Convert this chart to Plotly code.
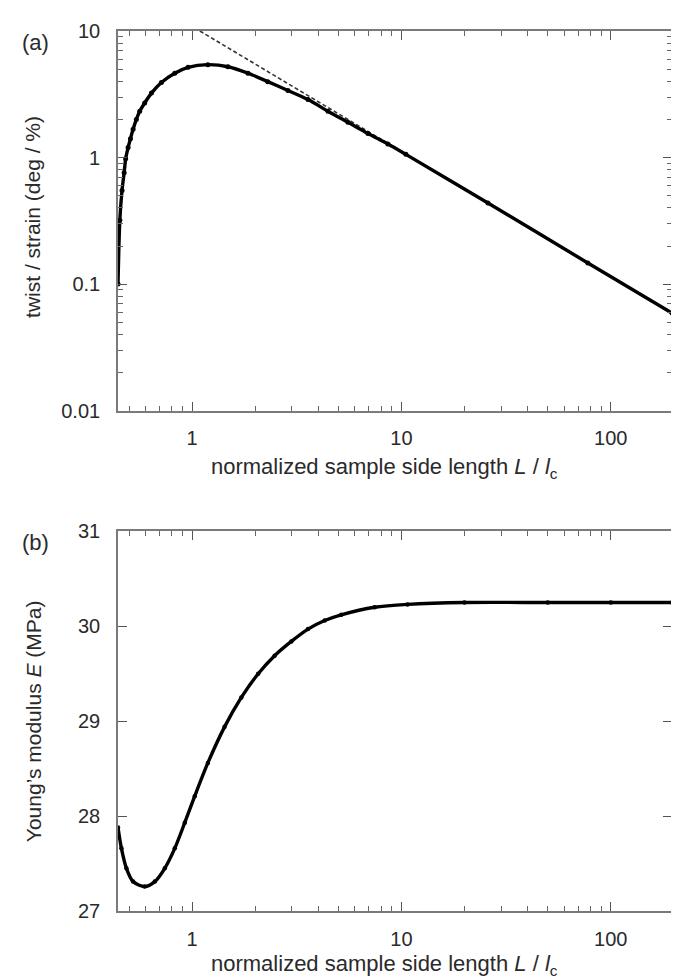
import plotly.graph_objects as go

# ---- data ----
# (a) twist / strain vs normalized side length
a_x = [0.443, 0.452, 0.463, 0.474, 0.482, 0.495, 0.508, 0.523, 0.542, 0.5625,
       0.594, 0.64, 0.714, 0.827, 0.957, 1.19, 1.485, 1.85, 2.30, 2.87,
       3.58, 4.46, 5.55, 6.92, 8.62, 10.5, 25.9, 77.7, 196]
a_y = [0.10, 0.32, 0.55, 0.76, 0.98, 1.20, 1.41, 1.67, 2.00, 2.32,
       2.70, 3.23, 3.92, 4.64, 5.16, 5.42, 5.22, 4.64, 3.98, 3.39,
       2.87, 2.32, 1.90, 1.55, 1.28, 1.06, 0.437, 0.147, 0.059]
# dashed asymptote
asym_x = [1.09, 196]
asym_y = [10.0, 0.059]

# (b) Young's modulus vs normalized side length
b_x = [0.443, 0.46, 0.486, 0.523, 0.594, 0.664, 0.741, 0.827, 0.923, 1.03,
       1.19, 1.43, 1.72, 2.07, 2.48, 2.98, 3.58, 4.30, 5.16, 7.45,
       10.7, 20, 50, 100, 196]
b_y = [27.88, 27.66, 27.45, 27.31, 27.257, 27.31, 27.45, 27.66, 27.93, 28.21,
       28.56, 28.94, 29.25, 29.50, 29.69, 29.84, 29.97, 30.06, 30.12, 30.20,
       30.23, 30.25, 30.25, 30.25, 30.25]

x_major = [1, 10, 100]
x_major_text = ["1", "10", "100"]
x_minor = [0.5, 0.6, 0.7, 0.8, 0.9, 2, 3, 4, 5, 6, 7, 8, 9,
           20, 30, 40, 50, 60, 70, 80, 90]
ya_major = [0.01, 0.1, 1, 10]
ya_major_text = ["0.01", "0.1", "1", "10"]
ya_minor = [m * d for d in (0.01, 0.1, 1) for m in range(2, 10)]
yb_major = [27, 28, 29, 30, 31]

x_title = "normalized sample side length <i>L</i> / <i>l</i><sub>c</sub>"
ya_title = "twist / strain (deg / %)"
yb_title = "Young\u2019s modulus <i>E</i> (MPa)"

# ---- figure ----
FONT = "Liberation Sans, Arial, sans-serif"
TXT = "#2a2a2a"
AXC = "#7a7a7a"
W, H = 679, 978
ML, MR, MT, MB = 110, 15, 13, 75
PW = W - ML - MR
PH = H - MT - MB
BOT = H - MB


def px_x(px):
    return (px - ML) / PW


def px_y(py):
    return (BOT - py) / PH


fig = go.Figure()

fig.add_trace(go.Scatter(x=asym_x, y=asym_y, mode="lines",
                         line=dict(color="#333333", width=1.6, dash="4px,2.5px"),
                         xaxis="x", yaxis="y", showlegend=False, hoverinfo="skip"))
fig.add_trace(go.Scatter(x=a_x, y=a_y, mode="lines+markers",
                         line=dict(color="#000000", width=3.4, shape="spline", smoothing=0.8),
                         marker=dict(color="#000000", size=5),
                         xaxis="x", yaxis="y", showlegend=False))
fig.add_trace(go.Scatter(x=b_x, y=b_y, mode="lines+markers",
                         line=dict(color="#000000", width=3.4, shape="spline", smoothing=0.8),
                         marker=dict(color="#000000", size=4.5),
                         xaxis="x2", yaxis="y2", showlegend=False))

x_common = dict(
    type="log", range=[-0.3536, 2.2923],
    tickmode="array", tickvals=x_major, ticktext=x_major_text,
    ticks="inside", ticklen=9, tickwidth=1.2, tickcolor="#555555",
    minor=dict(tickmode="array", tickvals=x_minor, ticks="inside",
               ticklen=5, tickwidth=1.1, tickcolor="#666666"),
    showline=True, linecolor=AXC, linewidth=1.6, mirror="ticks",
    showgrid=False, zeroline=False,
    tickfont=dict(family=FONT, size=20, color=TXT),
    ticklabelstandoff=9,
)
y_common = dict(
    ticks="inside", ticklen=9, tickwidth=1.2, tickcolor="#555555",
    showline=True, linecolor=AXC, linewidth=1.6, mirror="ticks",
    showgrid=False, zeroline=False,
    tickfont=dict(family=FONT, size=20, color=TXT),
    ticklabelstandoff=12,
)

top_a, bot_a = px_y(13), px_y(397)
top_b = px_y(519)

fig.update_layout(
    width=W, height=H,
    margin=dict(l=ML, r=MR, t=MT, b=MB),
    paper_bgcolor="white", plot_bgcolor="white",
    font=dict(family=FONT, color=TXT),
    xaxis=dict(x_common, domain=[0, 1], anchor="y"),
    yaxis=dict(y_common, domain=[bot_a, top_a], anchor="x", type="log",
               range=[-2, 1], tickmode="array", tickvals=ya_major,
               ticktext=ya_major_text,
               minor=dict(tickmode="array", tickvals=ya_minor, ticks="inside",
                          ticklen=5, tickwidth=1.1, tickcolor="#666666")),
    xaxis2=dict(x_common, domain=[0, 1], anchor="y2"),
    yaxis2=dict(y_common, domain=[0, top_b], anchor="x2",
                range=[27, 31], tickmode="array", tickvals=yb_major),
)

ann = []
ann.append(dict(text=x_title, x=px_x(376), y=px_y(455), xref="paper", yref="paper",
                showarrow=False, xanchor="center", yanchor="middle",
                font=dict(family=FONT, size=22, color=TXT)))
ann.append(dict(text=x_title, x=px_x(376), y=px_y(958), xref="paper", yref="paper",
                showarrow=False, xanchor="center", yanchor="middle",
                font=dict(family=FONT, size=22, color=TXT)))
ann.append(dict(text=ya_title, x=px_x(25), y=px_y(201), xref="paper", yref="paper",
                showarrow=False, textangle=-90, xanchor="center", yanchor="middle",
                font=dict(family=FONT, size=21, color=TXT)))
ann.append(dict(text=yb_title, x=px_x(25), y=px_y(711), xref="paper", yref="paper",
                showarrow=False, textangle=-90, xanchor="center", yanchor="middle",
                font=dict(family=FONT, size=21, color=TXT)))
ann.append(dict(text="(a)", x=px_x(27), y=px_y(25), xref="paper", yref="paper",
                showarrow=False, xanchor="center", yanchor="middle",
                font=dict(family=FONT, size=22, color=TXT)))
ann.append(dict(text="(b)", x=px_x(27), y=px_y(530), xref="paper", yref="paper",
                showarrow=False, xanchor="center", yanchor="middle",
                font=dict(family=FONT, size=22, color=TXT)))
fig.update_layout(annotations=ann)

fig.write_html("out.html")
